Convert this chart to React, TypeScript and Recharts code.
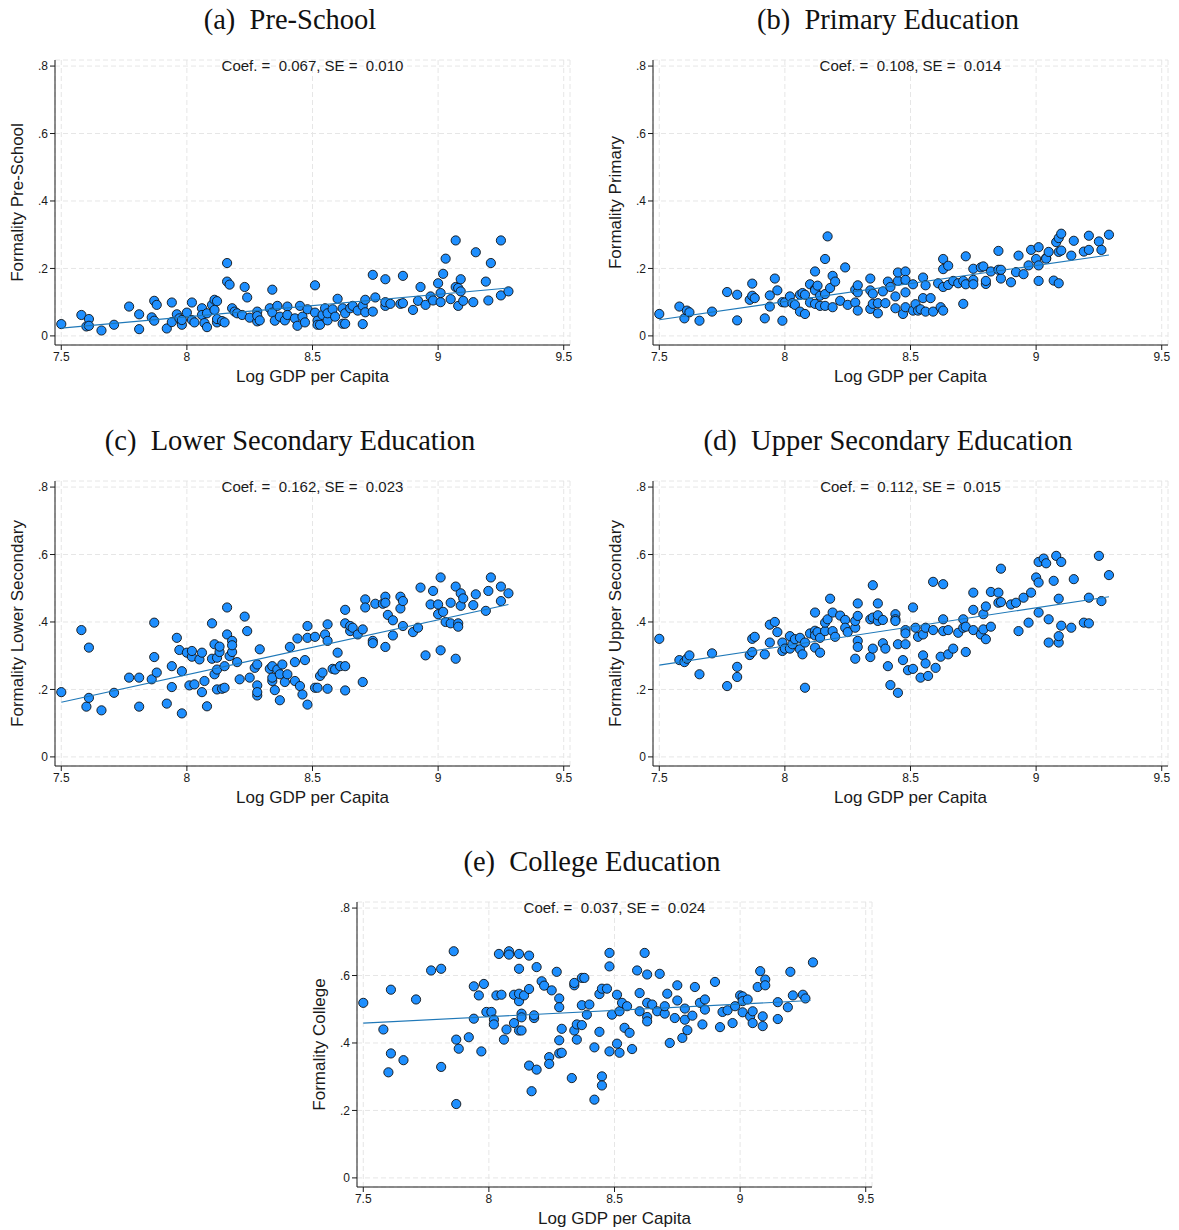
import { ScatterChart, Scatter, XAxis, YAxis, CartesianGrid, Label } from "recharts";

// axis ticks shared by all five panels
const xTicks = [7.5, 8, 8.5, 9, 9.5];
const yTicks = [0, 0.2, 0.4, 0.6, 0.8];

// (a) pre-school: [log GDP per capita, formality share]
const preSchool: [number, number][] = [
  [7.5, 0.035], [7.58, 0.062], [7.6, 0.028], [7.61, 0.05], [7.61, 0.03], [7.66, 0.016], [7.71, 0.033],
  [7.77, 0.087], [7.81, 0.064], [7.81, 0.02], [7.86, 0.055], [7.87, 0.104], [7.87, 0.045], [7.88, 0.092],
  [7.92, 0.022], [7.94, 0.099], [7.94, 0.041], [7.96, 0.064], [7.97, 0.052], [7.98, 0.033], [7.98, 0.047],
  [8.0, 0.069], [8.02, 0.099], [8.02, 0.047], [8.03, 0.04], [8.06, 0.082], [8.06, 0.062], [8.07, 0.038],
  [8.08, 0.026], [8.08, 0.067], [8.1, 0.092], [8.11, 0.077], [8.11, 0.107], [8.12, 0.04], [8.12, 0.05],
  [8.12, 0.103], [8.14, 0.044], [8.15, 0.04], [8.16, 0.161], [8.16, 0.216], [8.17, 0.152], [8.18, 0.082],
  [8.19, 0.072], [8.2, 0.067], [8.22, 0.062], [8.23, 0.145], [8.24, 0.114], [8.25, 0.054], [8.28, 0.043],
  [8.28, 0.072], [8.28, 0.059], [8.29, 0.046], [8.33, 0.082], [8.34, 0.137], [8.34, 0.069], [8.35, 0.045],
  [8.36, 0.089], [8.37, 0.057], [8.39, 0.046], [8.4, 0.087], [8.4, 0.062], [8.43, 0.052], [8.44, 0.03],
  [8.45, 0.089], [8.46, 0.057], [8.47, 0.04], [8.48, 0.079], [8.51, 0.15], [8.51, 0.069], [8.52, 0.045],
  [8.52, 0.033], [8.53, 0.033], [8.54, 0.062], [8.55, 0.082], [8.56, 0.046], [8.56, 0.067], [8.58, 0.079],
  [8.59, 0.057], [8.6, 0.11], [8.62, 0.036], [8.63, 0.036], [8.62, 0.082], [8.63, 0.067], [8.65, 0.082],
  [8.66, 0.089], [8.68, 0.075], [8.7, 0.035], [8.7, 0.089], [8.71, 0.107], [8.71, 0.07], [8.74, 0.181],
  [8.75, 0.114], [8.74, 0.072], [8.79, 0.089], [8.79, 0.1], [8.79, 0.168], [8.81, 0.095], [8.85, 0.095],
  [8.86, 0.178], [8.86, 0.097], [8.9, 0.077], [8.92, 0.104], [8.93, 0.145], [8.95, 0.092], [8.97, 0.117],
  [8.98, 0.105], [9.0, 0.156], [9.01, 0.1], [9.01, 0.127], [9.02, 0.184], [9.03, 0.229], [9.05, 0.109],
  [9.07, 0.145], [9.07, 0.283], [9.08, 0.089], [9.08, 0.142], [9.09, 0.168], [9.09, 0.132], [9.1, 0.104],
  [9.14, 0.1], [9.15, 0.248], [9.19, 0.161], [9.2, 0.105], [9.21, 0.216], [9.25, 0.283], [9.25, 0.12],
  [9.28, 0.132],
];
const preSchoolFit: [number, number][] = [[7.5, 0.023], [9.28, 0.142]];

// (b) primary
const primary: [number, number][] = [
  [7.5, 0.065], [7.58, 0.087], [7.6, 0.052], [7.61, 0.075], [7.62, 0.07], [7.66, 0.045], [7.71, 0.072],
  [7.77, 0.13], [7.81, 0.122], [7.81, 0.046], [7.86, 0.107], [7.87, 0.155], [7.87, 0.119], [7.88, 0.112],
  [7.92, 0.052], [7.94, 0.12], [7.94, 0.087], [7.96, 0.17], [7.97, 0.135], [7.99, 0.045], [7.99, 0.1],
  [8.0, 0.099], [8.02, 0.117], [8.03, 0.097], [8.04, 0.092], [8.06, 0.122], [8.07, 0.127], [8.06, 0.072],
  [8.08, 0.122], [8.08, 0.065], [8.1, 0.099], [8.1, 0.153], [8.12, 0.139], [8.12, 0.191], [8.12, 0.135],
  [8.12, 0.095], [8.13, 0.149], [8.14, 0.119], [8.14, 0.089], [8.16, 0.089], [8.16, 0.124], [8.16, 0.228],
  [8.17, 0.295], [8.18, 0.142], [8.19, 0.085], [8.19, 0.178], [8.2, 0.161], [8.22, 0.104], [8.24, 0.203],
  [8.25, 0.092], [8.28, 0.137], [8.28, 0.099], [8.29, 0.129], [8.29, 0.075], [8.29, 0.15], [8.34, 0.17],
  [8.34, 0.135], [8.34, 0.08], [8.35, 0.095], [8.35, 0.125], [8.37, 0.067], [8.37, 0.097], [8.39, 0.132],
  [8.4, 0.097], [8.41, 0.161], [8.42, 0.145], [8.44, 0.117], [8.44, 0.082], [8.45, 0.163], [8.45, 0.188],
  [8.47, 0.065], [8.48, 0.129], [8.48, 0.085], [8.48, 0.191], [8.48, 0.166], [8.51, 0.153], [8.51, 0.075],
  [8.52, 0.094], [8.53, 0.075], [8.54, 0.079], [8.55, 0.112], [8.55, 0.173], [8.56, 0.072], [8.56, 0.15],
  [8.58, 0.112], [8.59, 0.072], [8.61, 0.156], [8.62, 0.085], [8.63, 0.198], [8.63, 0.228], [8.63, 0.075],
  [8.63, 0.145], [8.65, 0.208], [8.65, 0.151], [8.67, 0.163], [8.69, 0.156], [8.71, 0.095], [8.71, 0.163],
  [8.72, 0.236], [8.72, 0.153], [8.75, 0.166], [8.75, 0.153], [8.75, 0.199], [8.78, 0.203], [8.79, 0.206],
  [8.8, 0.154], [8.8, 0.163], [8.82, 0.191], [8.85, 0.196], [8.85, 0.252], [8.86, 0.17], [8.86, 0.196],
  [8.9, 0.159], [8.92, 0.189], [8.93, 0.238], [8.95, 0.183], [8.97, 0.209], [8.98, 0.255], [9.0, 0.228],
  [9.01, 0.163], [9.01, 0.209], [9.01, 0.263], [9.04, 0.231], [9.04, 0.229], [9.05, 0.249], [9.07, 0.164],
  [9.08, 0.278], [9.09, 0.156], [9.09, 0.249], [9.09, 0.29], [9.1, 0.303], [9.1, 0.253], [9.15, 0.282],
  [9.14, 0.238], [9.19, 0.25], [9.21, 0.255], [9.21, 0.297], [9.25, 0.28], [9.26, 0.255], [9.29, 0.3],
];
const primaryFit: [number, number][] = [[7.5, 0.048], [9.29, 0.24]];

// (c) lower secondary
const lowerSecondary: [number, number][] = [
  [7.5, 0.192], [7.58, 0.376], [7.6, 0.149], [7.61, 0.324], [7.61, 0.175], [7.66, 0.138], [7.71, 0.19],
  [7.77, 0.235], [7.81, 0.235], [7.81, 0.149], [7.86, 0.23], [7.87, 0.398], [7.87, 0.296], [7.88, 0.25],
  [7.92, 0.158], [7.94, 0.269], [7.94, 0.207], [7.96, 0.353], [7.97, 0.317], [7.98, 0.129], [7.98, 0.254],
  [8.0, 0.309], [8.02, 0.297], [8.02, 0.314], [8.01, 0.212], [8.03, 0.215], [8.05, 0.289], [8.06, 0.192],
  [8.06, 0.309], [8.07, 0.225], [8.08, 0.15], [8.1, 0.396], [8.1, 0.291], [8.11, 0.334], [8.11, 0.245],
  [8.12, 0.259], [8.12, 0.2], [8.12, 0.294], [8.13, 0.311], [8.13, 0.327], [8.14, 0.202], [8.15, 0.205],
  [8.15, 0.269], [8.16, 0.363], [8.16, 0.443], [8.17, 0.299], [8.18, 0.311], [8.18, 0.344], [8.18, 0.331],
  [8.2, 0.281], [8.21, 0.23], [8.23, 0.416], [8.24, 0.373], [8.25, 0.235], [8.27, 0.264], [8.28, 0.182],
  [8.28, 0.212], [8.28, 0.274], [8.28, 0.192], [8.29, 0.319], [8.33, 0.261], [8.34, 0.225], [8.34, 0.269],
  [8.34, 0.235], [8.35, 0.198], [8.37, 0.168], [8.36, 0.259], [8.38, 0.274], [8.37, 0.245], [8.39, 0.222],
  [8.41, 0.326], [8.4, 0.245], [8.43, 0.225], [8.43, 0.281], [8.44, 0.351], [8.45, 0.21], [8.46, 0.185],
  [8.47, 0.287], [8.48, 0.155], [8.48, 0.388], [8.48, 0.353], [8.51, 0.356], [8.51, 0.205], [8.52, 0.205],
  [8.53, 0.24], [8.54, 0.25], [8.55, 0.363], [8.56, 0.393], [8.56, 0.202], [8.56, 0.344], [8.58, 0.261],
  [8.59, 0.259], [8.6, 0.309], [8.61, 0.269], [8.63, 0.269], [8.63, 0.396], [8.63, 0.436], [8.63, 0.197],
  [8.65, 0.373], [8.65, 0.388], [8.66, 0.383], [8.68, 0.363], [8.7, 0.378], [8.7, 0.222], [8.71, 0.467],
  [8.71, 0.443], [8.74, 0.344], [8.74, 0.337], [8.75, 0.454], [8.78, 0.454], [8.79, 0.475], [8.79, 0.457],
  [8.79, 0.326], [8.8, 0.421], [8.82, 0.405], [8.82, 0.36], [8.85, 0.44], [8.85, 0.475], [8.86, 0.462],
  [8.86, 0.388], [8.9, 0.37], [8.92, 0.383], [8.93, 0.502], [8.95, 0.301], [8.97, 0.452], [8.98, 0.492],
  [9.0, 0.423], [9.0, 0.452], [9.01, 0.316], [9.01, 0.532], [9.02, 0.43], [9.03, 0.4], [9.05, 0.457],
  [9.05, 0.396], [9.07, 0.291], [9.07, 0.505], [9.08, 0.396], [9.08, 0.386], [9.09, 0.448], [9.09, 0.485],
  [9.1, 0.47], [9.14, 0.45], [9.15, 0.482], [9.19, 0.433], [9.2, 0.492], [9.21, 0.532], [9.25, 0.505],
  [9.25, 0.462], [9.28, 0.485],
];
const lowerSecondaryFit: [number, number][] = [[7.5, 0.162], [9.28, 0.452]];

// (d) upper secondary
const upperSecondary: [number, number][] = [
  [7.5, 0.35], [7.58, 0.287], [7.6, 0.281], [7.61, 0.291], [7.62, 0.301], [7.66, 0.245], [7.71, 0.307],
  [7.77, 0.21], [7.81, 0.237], [7.81, 0.267], [7.86, 0.302], [7.87, 0.311], [7.87, 0.35], [7.88, 0.356],
  [7.92, 0.304], [7.94, 0.392], [7.94, 0.339], [7.96, 0.4], [7.97, 0.37], [7.99, 0.314], [7.99, 0.339],
  [8.0, 0.321], [8.02, 0.358], [8.02, 0.321], [8.03, 0.334], [8.04, 0.349], [8.06, 0.353], [8.06, 0.319],
  [8.07, 0.304], [8.08, 0.339], [8.08, 0.205], [8.1, 0.366], [8.12, 0.324], [8.12, 0.428], [8.12, 0.374],
  [8.12, 0.36], [8.13, 0.37], [8.14, 0.309], [8.14, 0.353], [8.16, 0.373], [8.16, 0.398], [8.17, 0.408],
  [8.18, 0.469], [8.19, 0.373], [8.19, 0.428], [8.2, 0.356], [8.22, 0.419], [8.24, 0.406], [8.24, 0.383],
  [8.25, 0.37], [8.28, 0.383], [8.28, 0.291], [8.28, 0.403], [8.29, 0.344], [8.29, 0.326], [8.29, 0.418],
  [8.29, 0.455], [8.34, 0.408], [8.34, 0.296], [8.35, 0.509], [8.35, 0.413], [8.35, 0.321], [8.37, 0.455],
  [8.37, 0.403], [8.37, 0.42], [8.39, 0.337], [8.39, 0.406], [8.4, 0.321], [8.41, 0.269], [8.42, 0.213],
  [8.44, 0.423], [8.44, 0.408], [8.44, 0.403], [8.45, 0.19], [8.45, 0.334], [8.47, 0.287], [8.48, 0.376],
  [8.48, 0.366], [8.48, 0.334], [8.49, 0.257], [8.51, 0.443], [8.51, 0.261], [8.52, 0.383], [8.53, 0.356],
  [8.54, 0.235], [8.55, 0.363], [8.55, 0.301], [8.56, 0.277], [8.56, 0.383], [8.57, 0.24], [8.59, 0.519],
  [8.59, 0.376], [8.6, 0.264], [8.62, 0.297], [8.63, 0.408], [8.63, 0.373], [8.63, 0.512], [8.65, 0.376],
  [8.65, 0.304], [8.67, 0.321], [8.69, 0.368], [8.71, 0.408], [8.71, 0.383], [8.72, 0.311], [8.72, 0.386],
  [8.75, 0.487], [8.75, 0.436], [8.75, 0.376], [8.78, 0.363], [8.79, 0.423], [8.79, 0.378], [8.8, 0.446],
  [8.8, 0.349], [8.82, 0.386], [8.82, 0.489], [8.85, 0.487], [8.85, 0.457], [8.86, 0.558], [8.86, 0.459],
  [8.9, 0.452], [8.92, 0.457], [8.93, 0.373], [8.95, 0.472], [8.97, 0.398], [8.98, 0.487], [9.0, 0.532],
  [9.01, 0.517], [9.01, 0.578], [9.01, 0.428], [9.03, 0.588], [9.04, 0.574], [9.05, 0.408], [9.05, 0.339],
  [9.07, 0.522], [9.08, 0.596], [9.09, 0.469], [9.09, 0.339], [9.09, 0.358], [9.1, 0.578], [9.1, 0.389],
  [9.15, 0.527], [9.14, 0.383], [9.19, 0.398], [9.21, 0.472], [9.21, 0.396], [9.25, 0.596], [9.26, 0.462],
  [9.29, 0.539],
];
const upperSecondaryFit: [number, number][] = [[7.5, 0.272], [9.29, 0.475]];

// (e) college
const college: [number, number][] = [
  [7.5, 0.519], [7.58, 0.44], [7.6, 0.313], [7.61, 0.369], [7.61, 0.558], [7.66, 0.349], [7.71, 0.529],
  [7.77, 0.615], [7.81, 0.62], [7.81, 0.329], [7.86, 0.672], [7.87, 0.41], [7.87, 0.219], [7.88, 0.383],
  [7.92, 0.417], [7.94, 0.472], [7.94, 0.568], [7.96, 0.541], [7.97, 0.375], [7.98, 0.575], [7.99, 0.492],
  [8.01, 0.492], [8.02, 0.469], [8.02, 0.455], [8.03, 0.541], [8.04, 0.664], [8.05, 0.543], [8.06, 0.41],
  [8.07, 0.44], [8.08, 0.672], [8.08, 0.662], [8.1, 0.543], [8.1, 0.459], [8.12, 0.437], [8.12, 0.664],
  [8.12, 0.524], [8.12, 0.546], [8.12, 0.62], [8.13, 0.437], [8.13, 0.487], [8.13, 0.476], [8.14, 0.541],
  [8.16, 0.56], [8.16, 0.659], [8.16, 0.333], [8.17, 0.257], [8.18, 0.474], [8.18, 0.482], [8.19, 0.321],
  [8.19, 0.625], [8.21, 0.583], [8.22, 0.57], [8.24, 0.358], [8.24, 0.338], [8.25, 0.556], [8.27, 0.611],
  [8.28, 0.532], [8.28, 0.369], [8.28, 0.506], [8.28, 0.408], [8.29, 0.442], [8.29, 0.371], [8.33, 0.296],
  [8.34, 0.571], [8.34, 0.578], [8.34, 0.437], [8.35, 0.41], [8.35, 0.455], [8.37, 0.453], [8.37, 0.512],
  [8.37, 0.593], [8.38, 0.593], [8.39, 0.484], [8.4, 0.514], [8.42, 0.387], [8.42, 0.232], [8.44, 0.545],
  [8.44, 0.433], [8.45, 0.561], [8.45, 0.301], [8.45, 0.274], [8.47, 0.561], [8.48, 0.667], [8.48, 0.375],
  [8.48, 0.627], [8.49, 0.484], [8.51, 0.543], [8.51, 0.398], [8.52, 0.371], [8.52, 0.494], [8.53, 0.519],
  [8.54, 0.445], [8.55, 0.509], [8.56, 0.43], [8.57, 0.382], [8.59, 0.615], [8.6, 0.548], [8.6, 0.494],
  [8.62, 0.667], [8.63, 0.603], [8.63, 0.519], [8.63, 0.477], [8.63, 0.464], [8.65, 0.514], [8.67, 0.494],
  [8.68, 0.605], [8.7, 0.487], [8.7, 0.509], [8.71, 0.546], [8.72, 0.4], [8.74, 0.474], [8.75, 0.571],
  [8.75, 0.526], [8.77, 0.415], [8.78, 0.469], [8.78, 0.502], [8.79, 0.438], [8.81, 0.481], [8.82, 0.566],
  [8.84, 0.519], [8.85, 0.455], [8.86, 0.529], [8.86, 0.499], [8.9, 0.581], [8.92, 0.447], [8.93, 0.492],
  [8.95, 0.497], [8.97, 0.459], [8.98, 0.509], [9.0, 0.541], [9.01, 0.491], [9.01, 0.538], [9.01, 0.524],
  [9.03, 0.529], [9.04, 0.479], [9.05, 0.494], [9.05, 0.459], [9.07, 0.566], [9.08, 0.613], [9.09, 0.45],
  [9.09, 0.479], [9.1, 0.588], [9.1, 0.571], [9.15, 0.471], [9.15, 0.521], [9.19, 0.506], [9.2, 0.611],
  [9.21, 0.541], [9.25, 0.543], [9.26, 0.532], [9.29, 0.639],
];
const collegeFit: [number, number][] = [[7.5, 0.459], [9.28, 0.526]];

const SANS = "'Liberation Sans', Arial, Helvetica, sans-serif";
const SERIF = "'Liberation Serif', 'Times New Roman', serif";
const DOT_FILL = "#1e8fff";
const FIT_COLOR = "#1f78b8";

type PanelProps = {
  title: string;
  yLabel: string;
  coef: string;
  points: [number, number][];
  fit: [number, number][];
  left: number;
  top: number;
};

const fmtX = (v: number) => String(v);
const fmtY = (v: number) => (v === 0 ? "0" : String(v).replace(/^0/, ""));

const Dot = (props: any) => (
  <circle cx={props.cx} cy={props.cy} r={4.6} fill={DOT_FILL} stroke="#111" strokeWidth={0.9} />
);

function Panel({ title, yLabel, coef, points, fit, left, top }: PanelProps) {
  const data = points.map(([x, y]) => ({ x, y }));
  const fitData = fit.map(([x, y]) => ({ x, y }));
  const tickStyle = { fontSize: 12, fill: "#1a1a1a", fontFamily: SANS };

  return (
    <div style={{ position: "absolute", left, top, width: 590, height: 421 }}>
      <div
        style={{
          position: "absolute",
          left: 0,
          top: 0,
          width: 580,
          height: 40,
          lineHeight: "40px",
          textAlign: "center",
          fontFamily: SERIF,
          fontSize: 28.5,
          color: "#111",
          whiteSpace: "pre",
        }}
      >
        {title}
      </div>
      <div style={{ position: "absolute", left: 0, top: 45 }}>
        <ScatterChart width={590} height={345} margin={{ top: 15, right: 20, bottom: 0, left: 0 }}>
          <CartesianGrid stroke="#e6e6e6" strokeDasharray="5 3" />
          <XAxis
            type="number"
            dataKey="x"
            domain={[7.475, 9.525]}
            ticks={xTicks}
            allowDataOverflow
            tickFormatter={fmtX}
            height={45}
            tick={tickStyle}
            tickSize={5}
            axisLine={{ stroke: "#1a1a1a" }}
            tickLine={{ stroke: "#1a1a1a" }}
          >
            <Label
              value="Log GDP per Capita"
              position="insideBottom"
              offset={8}
              style={{ fontSize: 17, fill: "#1a1a1a", fontFamily: SANS }}
            />
          </XAxis>
          <YAxis
            type="number"
            dataKey="y"
            domain={[-0.027, 0.818]}
            ticks={yTicks}
            allowDataOverflow
            tickFormatter={fmtY}
            width={55}
            tick={tickStyle}
            tickSize={5}
            axisLine={{ stroke: "#1a1a1a" }}
            tickLine={{ stroke: "#1a1a1a" }}
          >
            <Label
              value={yLabel}
              angle={-90}
              position="insideLeft"
              offset={17}
              style={{ fontSize: 17, fill: "#1a1a1a", fontFamily: SANS, textAnchor: "middle" }}
            />
          </YAxis>
          <Scatter data={data} shape={Dot} isAnimationActive={false} />
          <Scatter
            data={fitData}
            line={{ stroke: FIT_COLOR, strokeWidth: 1.1 }}
            shape={() => <g />}
            isAnimationActive={false}
          />
        </ScatterChart>
        <div
          style={{
            position: "absolute",
            left: 55,
            width: 515,
            top: 13,
            lineHeight: "16px",
            textAlign: "center",
            fontFamily: SANS,
            fontSize: 15,
            color: "#1a1a1a",
            whiteSpace: "pre",
          }}
        >
          {coef}
        </div>
      </div>
    </div>
  );
}

export default function App() {
  return (
    <div style={{ position: "relative", width: 1179, height: 1230, background: "#fff" }}>
      <style>{"body{margin:0}"}</style>
      <Panel
        title="(a)  Pre-School"
        yLabel="Formality Pre-School"
        coef="Coef. =  0.067, SE =  0.010"
        points={preSchool}
        fit={preSchoolFit}
        left={0}
        top={0}
      />
      <Panel
        title="(b)  Primary Education"
        yLabel="Formality Primary"
        coef="Coef. =  0.108, SE =  0.014"
        points={primary}
        fit={primaryFit}
        left={598}
        top={0}
      />
      <Panel
        title="(c)  Lower Secondary Education"
        yLabel="Formality Lower Secondary"
        coef="Coef. =  0.162, SE =  0.023"
        points={lowerSecondary}
        fit={lowerSecondaryFit}
        left={0}
        top={421}
      />
      <Panel
        title="(d)  Upper Secondary Education"
        yLabel="Formality Upper Secondary"
        coef="Coef. =  0.112, SE =  0.015"
        points={upperSecondary}
        fit={upperSecondaryFit}
        left={598}
        top={421}
      />
      <Panel
        title="(e)  College Education"
        yLabel="Formality College"
        coef="Coef. =  0.037, SE =  0.024"
        points={college}
        fit={collegeFit}
        left={302}
        top={842}
      />
    </div>
  );
}
